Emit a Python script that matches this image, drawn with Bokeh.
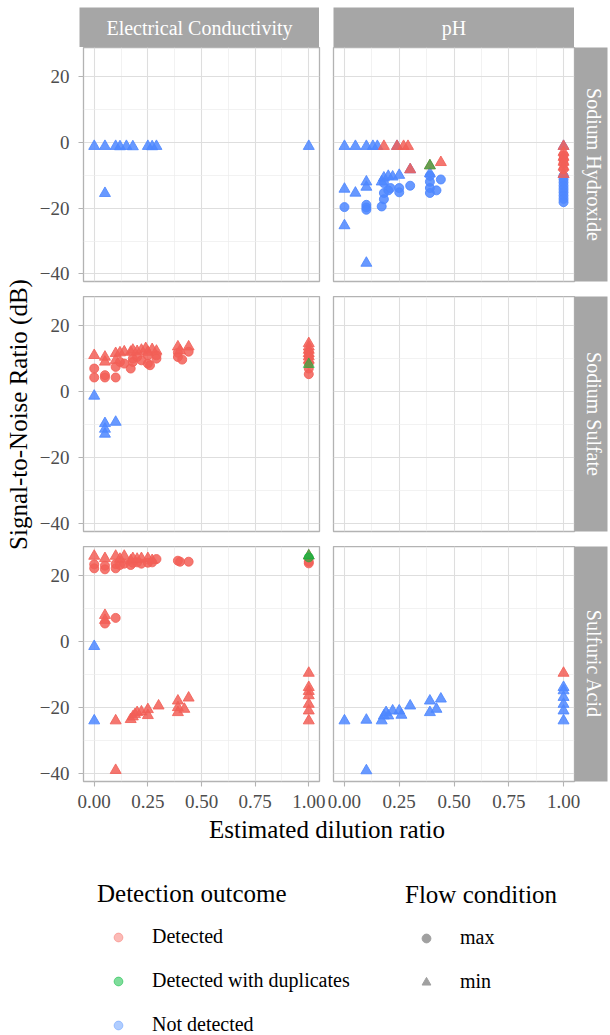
import math
from bokeh.plotting import figure
from bokeh.models import (Range1d, Label, LinearAxis, FixedTicker, Grid,
                          NumeralTickFormatter, Legend, LegendItem, Spacer)
from bokeh.layouts import row, column
from bokeh.embed import file_html
from bokeh.resources import INLINE

# ------------------------------------------------------------------ data
facet_cols = ["Electrical Conductivity", "pH"]
facet_rows = ["Sodium Hydroxide", "Sodium Sulfate", "Sulfuric Acid"]
outcomes = ["Detected", "Detected with duplicates", "Not detected"]
flows = ["max", "min"]
x_ticks = [0.0, 0.25, 0.5, 0.75, 1.0]
x_minor = [0.125, 0.375, 0.625, 0.875]
y_ticks = [-40, -20, 0, 20]
y_minor = [-30, -10, 10]

# Sodium Hydroxide / Electrical Conductivity
naoh_ec_nd_min_x = [0.0, 0.05, 0.10, 0.12, 0.15, 0.18, 0.25, 0.27, 0.29, 1.0, 0.05]
naoh_ec_nd_min_y = [-1.2, -1.2, -1.2, -1.3, -1.2, -1.3, -1.2, -1.3, -1.2, -1.2, -15.5]

# Sodium Hydroxide / pH
naoh_ph_nd_min_x = [0.0, 0.05, 0.10, 0.13, 0.15, 0.24, 0.0, 0.05, 0.10, 0.10, 0.0, 0.10,
                    0.17, 0.18, 0.20, 0.22, 0.25, 0.30, 0.39, 1.0, 1.0]
naoh_ph_nd_min_y = [-1.2, -1.2, -1.2, -1.2, -1.2, -1.2, -14.2, -15.4, -13.6, -12.0, -25.3, -36.7,
                    -12.0, -10.8, -10.3, -10.5, -10.0, -8.3, -9.5, -1.2, -9.7]
naoh_ph_nd_max_x = [0.0, 0.10, 0.10, 0.10, 0.17, 0.18, 0.18, 0.18, 0.20, 0.21, 0.25, 0.25,
                    0.30, 0.39, 0.39, 0.39, 0.39, 0.42, 0.44,
                    1.0, 1.0, 1.0, 1.0, 1.0, 1.0, 1.0, 1.0, 1.0]
naoh_ph_nd_max_y = [-19.7, -19.0, -19.8, -20.5, -19.5, -17.3, -15.4, -12.4, -14.6, -13.9, -15.2, -13.9,
                    -13.2, -10.2, -12.0, -13.9, -15.4, -14.6, -11.3,
                    -10.2, -11.2, -12.2, -13.2, -14.2, -15.2, -16.2, -17.2, -18.2]
naoh_ph_det_min_x = [0.18, 0.24, 0.27, 0.29, 0.30, 0.39, 0.44, 1.0, 1.0, 1.0, 1.0, 1.0, 1.0]
naoh_ph_det_min_y = [-1.2, -1.2, -1.2, -1.2, -8.3, -7.1, -6.1, -1.2, -3.0, -4.5, -6.0, -7.5, -9.7]
naoh_ph_det_max_x = [1.0, 1.0, 1.0, 1.0]
naoh_ph_det_max_y = [-4.0, -5.2, -6.4, -8.2]
naoh_ph_dup_min_x = [0.39]
naoh_ph_dup_min_y = [-7.1]

# Sodium Sulfate / Electrical Conductivity
naso_ec_det_min_x = [0.0, 0.05, 0.05, 0.10, 0.10, 0.12, 0.14, 0.17, 0.18, 0.20, 0.22, 0.24,
                     0.25, 0.27, 0.29, 0.39, 0.40, 0.44, 1.0, 1.0, 1.0, 1.0, 1.0, 1.0]
naso_ec_det_min_y = [11.0, 10.5, 9.0, 11.6, 9.5, 11.8, 12.1, 12.0, 12.6, 12.2, 12.6, 13.1,
                     12.0, 12.8, 12.3, 13.6, 12.4, 13.6, 14.6, 13.6, 12.6, 11.6, 10.6, 9.6]
naso_ec_det_max_x = [0.0, 0.0, 0.05, 0.05, 0.10, 0.10, 0.12, 0.14, 0.17, 0.18, 0.18, 0.20,
                     0.22, 0.25, 0.25, 0.26, 0.29, 0.29, 0.39, 0.39, 0.41, 0.44,
                     1.0, 1.0, 1.0, 1.0, 1.0]
naso_ec_det_max_y = [7.0, 4.3, 4.3, 5.0, 4.3, 7.5, 9.0, 8.5, 7.0, 10.0, 9.0, 10.5,
                     9.5, 8.5, 11.0, 8.0, 11.0, 10.0, 10.5, 11.8, 9.7, 12.1,
                     12.0, 10.5, 8.5, 7.0, 5.3]
naso_ec_dup_min_x = [1.0]
naso_ec_dup_min_y = [8.3]
naso_ec_nd_min_x = [0.0, 0.05, 0.05, 0.05, 0.10]
naso_ec_nd_min_y = [-1.3, -9.6, -11.3, -12.8, -9.2]

# Sulfuric Acid / Electrical Conductivity
h2so4_ec_det_min_x = [0.0, 0.05, 0.10, 0.12, 0.14, 0.17, 0.18, 0.20, 0.22, 0.25, 0.27, 1.0,
                      0.05, 0.05, 0.10, 0.10, 0.17, 0.18, 0.19, 0.20, 0.22, 0.25, 0.25, 0.30,
                      0.39, 0.39, 0.39, 0.42, 0.44, 1.0, 1.0, 1.0, 1.0, 1.0, 1.0, 1.0]
h2so4_ec_det_min_y = [25.9, 25.2, 25.9, 25.0, 25.9, 24.5, 25.2, 25.0, 25.2, 25.2, 24.6, 26.0,
                      6.5, 8.0, -23.9, -38.9, -23.5, -22.7, -22.0, -21.4, -21.2, -20.5, -22.3, -19.4,
                      -17.9, -19.9, -21.4, -20.4, -17.0, -9.5, -13.8, -15.0, -16.3, -18.9, -20.9, -23.9]
h2so4_ec_det_max_x = [0.0, 0.0, 0.05, 0.05, 0.10, 0.10, 0.12, 0.14, 0.17, 0.18, 0.20, 0.22,
                      0.25, 0.27, 0.29, 0.39, 0.40, 0.44, 1.0, 1.0, 0.05, 0.10]
h2so4_ec_det_max_y = [22.2, 23.4, 21.9, 23.0, 22.2, 23.5, 23.2, 23.6, 23.2, 23.9, 24.0, 23.6,
                      23.9, 24.0, 25.0, 24.5, 24.2, 24.2, 23.7, 24.2, 5.5, 7.2]
h2so4_ec_dup_min_x = [1.0]
h2so4_ec_dup_min_y = [26.0]
h2so4_ec_dup_max_x = [1.0]
h2so4_ec_dup_max_y = [25.5]
h2so4_ec_nd_min_x = [0.0, 0.0]
h2so4_ec_nd_min_y = [-1.4, -23.9]

# Sulfuric Acid / pH
h2so4_ph_nd_min_x = [0.0, 0.10, 0.10, 0.17, 0.18, 0.19, 0.20, 0.22, 0.25, 0.26, 0.30,
                     0.39, 0.39, 0.42, 0.44, 1.0, 1.0, 1.0, 1.0, 1.0, 1.0]
h2so4_ph_nd_min_y = [-23.9, -23.7, -39.0, -23.9, -22.4, -21.4, -22.4, -20.9, -20.9, -22.2, -19.4,
                     -17.9, -21.4, -20.4, -17.3, -13.8, -14.8, -16.8, -18.9, -20.9, -23.9]
h2so4_ph_det_min_x = [1.0]
h2so4_ph_det_min_y = [-9.5]

# groups per panel: (outcome, flow, xs, ys)
panel_groups = {
    (0, 0): [("Not detected", "min", naoh_ec_nd_min_x, naoh_ec_nd_min_y)],
    (0, 1): [("Not detected", "max", naoh_ph_nd_max_x, naoh_ph_nd_max_y),
             ("Not detected", "min", naoh_ph_nd_min_x, naoh_ph_nd_min_y),
             ("Detected", "max", naoh_ph_det_max_x, naoh_ph_det_max_y),
             ("Detected", "min", naoh_ph_det_min_x, naoh_ph_det_min_y),
             ("Detected with duplicates", "min", naoh_ph_dup_min_x, naoh_ph_dup_min_y)],
    (1, 0): [("Not detected", "min", naso_ec_nd_min_x, naso_ec_nd_min_y),
             ("Detected", "max", naso_ec_det_max_x, naso_ec_det_max_y),
             ("Detected", "min", naso_ec_det_min_x, naso_ec_det_min_y),
             ("Detected with duplicates", "min", naso_ec_dup_min_x, naso_ec_dup_min_y)],
    (1, 1): [],
    (2, 0): [("Not detected", "min", h2so4_ec_nd_min_x, h2so4_ec_nd_min_y),
             ("Detected", "max", h2so4_ec_det_max_x, h2so4_ec_det_max_y),
             ("Detected", "min", h2so4_ec_det_min_x, h2so4_ec_det_min_y),
             ("Detected with duplicates", "min", h2so4_ec_dup_min_x, h2so4_ec_dup_min_y),
             ("Detected with duplicates", "max", h2so4_ec_dup_max_x, h2so4_ec_dup_max_y)],
    (2, 1): [("Not detected", "min", h2so4_ph_nd_min_x, h2so4_ph_nd_min_y),
             ("Detected", "min", h2so4_ph_det_min_x, h2so4_ph_det_min_y)],
}

# ------------------------------------------------------------------ style
FONT = "Liberation Serif"
STRIP = "#a6a6a6"
BORDER = "#b3b3b3"
point_colors = {"Detected": "#F25F57", "Detected with duplicates": "#00BA38",
                "Not detected": "#4D87FF"}
point_alpha = {"Detected": 0.85, "Detected with duplicates": 0.55, "Not detected": 0.85}
key_colors = {"Detected": "#F8766D", "Detected with duplicates": "#00BA38",
              "Not detected": "#619CFF"}
flow_marker = {"max": "circle", "min": "triangle"}
flow_size = {"max": 9, "min": 11}

X_RANGE = (-0.05, 1.05)
Y_RANGE = (-42.3, 28.8)
ROW_H = [234, 235, 235]
GAP = 15
BOTTOM = 34
TOP_PAD = 7
STRIP_H = 40


def drop_grids(p):
    p.center = [c for c in p.center if not isinstance(c, Grid)]


def bare_figure(w, h, xr, yr, fill="white"):
    f = figure(width=w, height=h, x_range=Range1d(*xr), y_range=Range1d(*yr), title=None,
               x_axis_location=None, y_axis_location=None, min_border=0,
               output_backend="svg", toolbar_location=None,
               background_fill_color=fill, border_fill_color=fill, outline_line_color=None)
    drop_grids(f)
    return f


def make_panel(r, c):
    left_b, right_b = (43, 7) if c == 0 else (7, 36)
    frame_w = 240 if c == 0 else 241
    bottom_b = BOTTOM if r == 2 else GAP
    p = figure(width=left_b + frame_w + right_b, height=ROW_H[r] + bottom_b, title=None,
               x_range=Range1d(*X_RANGE), y_range=Range1d(*Y_RANGE),
               x_axis_location=None, y_axis_location=None,
               min_border_left=left_b, min_border_right=right_b,
               min_border_top=0, min_border_bottom=bottom_b,
               output_backend="svg", toolbar_location=None,
               background_fill_color="white", border_fill_color="white",
               outline_line_color=BORDER, outline_line_width=1.3)
    drop_grids(p)
    p.add_layout(Grid(dimension=0, ticker=FixedTicker(ticks=x_ticks, minor_ticks=x_minor),
                      grid_line_color="#dedede", grid_line_width=1.1,
                      minor_grid_line_color="#ececec", minor_grid_line_width=0.7))
    p.add_layout(Grid(dimension=1, ticker=FixedTicker(ticks=y_ticks, minor_ticks=y_minor),
                      grid_line_color="#dedede", grid_line_width=1.1,
                      minor_grid_line_color="#ececec", minor_grid_line_width=0.7))
    common = dict(axis_line_color=None, major_tick_line_color=BORDER, major_tick_line_width=1.1,
                  major_tick_in=0, major_tick_out=5, minor_tick_line_color=None,
                  major_label_text_font=FONT, major_label_text_font_size="19px",
                  major_label_text_color="#4d4d4d")
    if c == 0:
        p.add_layout(LinearAxis(ticker=FixedTicker(ticks=y_ticks), major_label_standoff=9,
                                **common), "left")
    if r == 2:
        p.add_layout(LinearAxis(ticker=FixedTicker(ticks=x_ticks),
                                formatter=NumeralTickFormatter(format="0.00"),
                                major_label_standoff=8, **common), "below")
    if c == 1:
        strip_ax = LinearAxis(ticker=FixedTicker(ticks=[]), axis_label=facet_rows[r],
                              axis_label_standoff=8, axis_label_text_font=FONT,
                              axis_label_text_font_size="20px", axis_label_text_font_style="normal",
                              axis_label_text_color="white", axis_line_color=None,
                              major_tick_line_color=None, minor_tick_line_color=None,
                              major_tick_out=0, major_tick_in=0, major_label_standoff=0,
                              background_fill_color=STRIP)
        p.add_layout(strip_ax, "right")
        filler = LinearAxis(ticker=FixedTicker(ticks=[]), axis_line_color=None,
                            major_tick_line_color=None, minor_tick_line_color=None,
                            major_tick_out=5, major_tick_in=0, major_label_standoff=0,
                            background_fill_color=STRIP)
        p.add_layout(filler, "right")
    for outcome, flow, xs, ys in panel_groups[(r, c)]:
        col = point_colors[outcome]
        a = point_alpha[outcome]
        p.scatter(x=xs, y=ys, marker=flow_marker[flow], size=flow_size[flow],
                  fill_color=col, line_color=col, fill_alpha=a, line_alpha=a)
    return p


def make_strip(text, w):
    s = bare_figure(w, STRIP_H, (0, 1), (0, 1), fill=STRIP)
    s.add_layout(Label(x=0.5, y=0.5, text=text, text_align="center", text_baseline="middle",
                       text_font=FONT, text_font_size="20px", text_color="white"))
    return s


panels = {(r, c): make_panel(r, c) for r in range(3) for c in range(2)}

strip_row = row(Spacer(width=43, height=STRIP_H), make_strip(facet_cols[0], 240),
                Spacer(width=14, height=STRIP_H), make_strip(facet_cols[1], 241),
                Spacer(width=36, height=STRIP_H))
panels_col = column(Spacer(width=574, height=TOP_PAD), strip_row,
                    row(panels[(0, 0)], panels[(0, 1)]),
                    row(panels[(1, 0)], panels[(1, 1)]),
                    row(panels[(2, 0)], panels[(2, 1)]))

TOP_H = TOP_PAD + STRIP_H + ROW_H[0] + GAP + ROW_H[1] + GAP + ROW_H[2] + BOTTOM
yt = bare_figure(36, TOP_H, (0, 36), (0, TOP_H))
yt.add_layout(Label(x=18, y=TOP_H - 414, text="Signal-to-Noise Ratio (dB)", angle=math.pi / 2,
                    text_align="center", text_baseline="middle", text_font=FONT,
                    text_font_size="25px", text_color="black"))

LEG_H = 1035 - TOP_H
lf = bare_figure(610, LEG_H, (0, 610), (0, LEG_H))
lf.add_layout(Label(x=326.5, y=LEG_H - 14, text="Estimated dilution ratio",
                    text_align="center", text_baseline="middle", text_font=FONT,
                    text_font_size="25px", text_color="black"))

# legend proxies (single point outside the visible range of the legend canvas)
out_items = []
for o in outcomes:
    rr = lf.scatter(x=[-1000], y=[-1000], marker="circle", size=9, fill_color=key_colors[o],
                    line_color=key_colors[o], fill_alpha=0.5, line_alpha=0.5)
    out_items.append(LegendItem(label=o, renderers=[rr]))
flow_items = []
for f in flows:
    rr = lf.scatter(x=[-1000], y=[-1000], marker=flow_marker[f], size=9,
                    fill_color="#a0a0a0", line_color="#a0a0a0")
    flow_items.append(LegendItem(label=f, renderers=[rr]))

leg_style = dict(orientation="vertical", padding=0, margin=0, spacing=21,
                 glyph_width=42, glyph_height=22, label_height=22, label_standoff=13,
                 title_standoff=17, label_text_font=FONT, label_text_font_size="20px",
                 label_text_color="black", title_text_font=FONT, title_text_font_size="25px",
                 title_text_font_style="normal", title_text_color="black",
                 border_line_color=None, background_fill_alpha=0)
lf.add_layout(Legend(items=out_items, title="Detection outcome", location=(97, -1), **leg_style))
lf.add_layout(Legend(items=flow_items, title="Flow condition", location=(405, 42), **leg_style))

root = column(row(yt, panels_col), lf)

open("out.html", "w").write(file_html(root, INLINE, title="SNR facets"))
